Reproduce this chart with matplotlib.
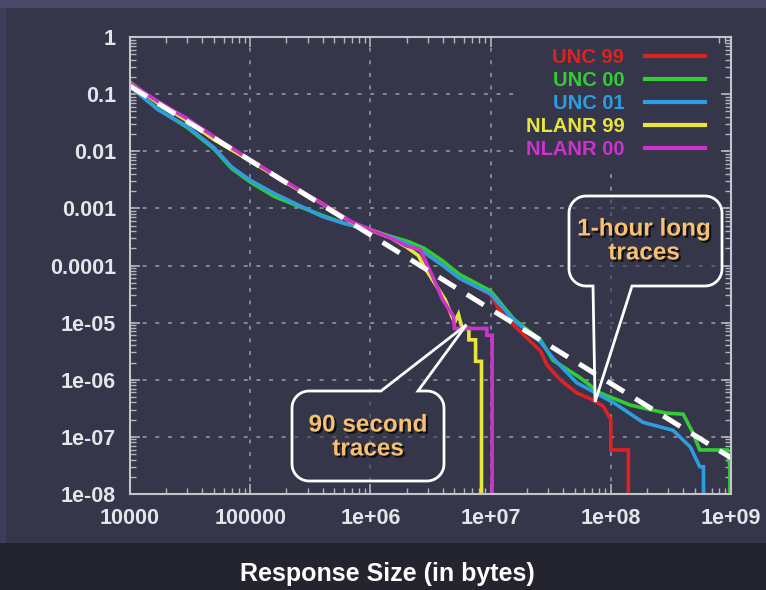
import matplotlib
matplotlib.use('Agg')
import matplotlib.pyplot as plt
import matplotlib.patheffects as pe
from matplotlib.patches import Rectangle, Polygon
from matplotlib.ticker import FixedLocator, NullFormatter, LogLocator
import numpy as np

# ---- data ----
series_names = ['UNC 99', 'UNC 00', 'UNC 01', 'NLANR 99', 'NLANR 00']
series_colors = ['#dd2222', '#33cc33', '#2a9ee0', '#e6e63c', '#cc33cc']

unc99_x = [1e4, 1.7e4, 3e4, 5e4, 7e4, 1e5, 1.6e5, 2.5e5, 4e5, 6e5, 1e6, 1.5e6, 2.1e6, 2.8e6,
           4e6, 5.5e6, 1e7, 1.2e7, 1.6e7, 2.6e7, 2.95e7, 3.8e7, 5.2e7, 7e7, 8.7e7, 1e8, 1e8,
           1.4e8, 1.4e8]
unc99_y = [0.135, 0.054, 0.027, 0.0115, 0.0053, 0.0031, 0.0018, 0.00115, 0.00072, 0.00055, 0.00042,
           0.00031, 0.00023, 0.00017, 0.0001, 6e-5, 3.1e-5, 1.6e-5, 8.5e-6, 3.2e-6, 1.8e-6, 1e-6,
           5.9e-7, 4.5e-7, 3.4e-7, 2e-7, 5.9e-8, 5.9e-8, 1e-8]

unc00_x = [1e4, 1.7e4, 3e4, 5e4, 7e4, 1e5, 1.6e5, 2.5e5, 4e5, 6e5, 1e6, 1.5e6, 2.1e6, 2.8e6,
           4e6, 5.5e6, 1e7, 1.56e7, 2.6e7, 3.3e7, 5.5e7, 8.1e7, 1.45e8, 2.9e8, 4e8, 4.8e8,
           5.5e8, 9.3e8, 9.8e8, 9.8e8]
unc00_y = [0.14, 0.055, 0.026, 0.011, 0.0050, 0.0029, 0.0016, 0.0011, 0.00075, 0.00055, 0.00042,
           0.00032, 0.00026, 0.0002, 0.00012, 7e-5, 3.6e-5, 1.15e-5, 5e-6, 2.2e-6, 1.1e-6, 5.9e-7,
           3.6e-7, 2.6e-7, 2.5e-7, 1.2e-7, 5.9e-8, 5.9e-8, 3e-8, 1e-8]

unc01_x = [1e4, 1.7e4, 3e4, 5e4, 7e4, 1e5, 1.6e5, 2.5e5, 4e5, 6e5, 1e6, 1.5e6, 2.1e6, 2.8e6,
           4e6, 5.5e6, 1e7, 1.56e7, 2.6e7, 3.3e7, 5.2e7, 1.05e8, 1.85e8, 3.3e8, 4.6e8, 5.5e8,
           5.9e8, 5.9e8]
unc01_y = [0.135, 0.054, 0.027, 0.0115, 0.0053, 0.0031, 0.0018, 0.00115, 0.00072, 0.00055, 0.00042,
           0.00031, 0.00023, 0.00017, 0.0001, 6e-5, 3.2e-5, 1.1e-5, 4.6e-6, 2.4e-6, 8.9e-7, 4e-7,
           1.8e-7, 1.3e-7, 6.6e-8, 3e-8, 3e-8, 1e-8]

nlanr99_x = [1e4, 1.7e4, 3e4, 5e4, 1e5, 2e5, 4e5, 7e5, 1e6, 1.5e6, 2e6, 2.5e6, 2.9e6, 4.2e6,
             5e6, 5.4e6, 5.8e6, 6.6e6, 6.6e6, 7.5e6, 7.5e6, 8.4e6, 8.4e6]
nlanr99_y = [0.16, 0.07, 0.034, 0.016, 0.0068, 0.0028, 0.0012, 0.00057, 0.00042, 0.0003, 0.00021,
             0.00015, 8.5e-5, 2.5e-5, 1e-5, 1.4e-5, 7.9e-6, 7.9e-6, 5e-6, 5e-6, 2.1e-6, 2.1e-6, 1e-8]

nlanr00_x = [1e4, 1.7e4, 3e4, 5e4, 1e5, 2e5, 4e5, 7e5, 1e6, 1.5e6, 2e6, 2.6e6, 3.3e6, 4e6,
             4.9e6, 5e6, 9.3e6, 9.3e6, 1.03e7, 1.03e7]
nlanr00_y = [0.155, 0.075, 0.037, 0.018, 0.0071, 0.0029, 0.0012, 0.00058, 0.00042, 0.0003, 0.00022,
             0.00019, 6.4e-5, 2.5e-5, 1.3e-5, 7.9e-6, 7.9e-6, 6e-6, 6e-6, 1e-8]

fit_x = [1e4, 1e9]
fit_y = [0.138, 4.3e-8]

xticks = [1e4, 1e5, 1e6, 1e7, 1e8, 1e9]
xtick_labels = ['10000', '100000', '1e+06', '1e+07', '1e+08', '1e+09']
yticks = [1, 0.1, 0.01, 0.001, 0.0001, 1e-5, 1e-6, 1e-7, 1e-8]
ytick_labels = ['1', '0.1', '0.01', '0.001', '0.0001', '1e-05', '1e-06', '1e-07', '1e-08']

hour_tip = (7.4e7, 4.1e-7)
sec_tip = (6.3e6, 9.2e-6)

W, H = 766, 590
FONT = ['Liberation Sans', 'DejaVu Sans']
PANEL = '#36364a'

fig = plt.figure(figsize=(W / 100, H / 100), dpi=100)
fig.patch.set_facecolor('#24242f')


def fx(x, y):
    return (x / W, 1 - y / H)


# slide background bands
fig.add_artist(Rectangle(fx(0, 543), 1, 543 / H, transform=fig.transFigure,
                         facecolor='#3e3e58', edgecolor='none', zorder=0))
fig.add_artist(Rectangle(fx(6, 543), 1, (543 - 8) / H, transform=fig.transFigure,
                         facecolor=PANEL, edgecolor='none', zorder=0))
fig.add_artist(Rectangle(fx(0, 8), 1, 8 / H, transform=fig.transFigure,
                         facecolor='#4a4a68', edgecolor='none', zorder=0))

ax = fig.add_axes([130 / W, 1 - 494 / H, (731 - 130) / W, (494 - 37) / H])
ax.set_facecolor('none')
ax.set_xscale('log')
ax.set_yscale('log')
ax.set_xlim(1e4, 1e9)
ax.set_ylim(1e-8, 1)

all_x = [unc99_x, unc00_x, unc01_x, nlanr99_x, nlanr00_x]
all_y = [unc99_y, unc00_y, unc01_y, nlanr99_y, nlanr00_y]
for xs, ys, name, c in zip(all_x, all_y, series_names, series_colors):
    ax.plot(xs, ys, color=c, lw=2.6, label=name, solid_joinstyle='miter', zorder=3)

ax.plot(fit_x, fit_y, color='white', lw=3.6, dashes=(4, 2.6), zorder=4)

ax.grid(True, which='major', color='#8c8ca0', linestyle=(0, (2.2, 4.8)), linewidth=1.3)
ax.xaxis.set_major_locator(FixedLocator(xticks))
ax.set_xticklabels(xtick_labels)
ax.yaxis.set_major_locator(FixedLocator(yticks))
ax.set_yticklabels(ytick_labels)
ax.xaxis.set_minor_locator(LogLocator(base=10, subs=np.arange(2, 10)))
ax.yaxis.set_minor_locator(LogLocator(base=10, subs=np.arange(2, 10)))
ax.xaxis.set_minor_formatter(NullFormatter())
ax.yaxis.set_minor_formatter(NullFormatter())
ax.tick_params(which='both', direction='in', top=True, right=True, color='#b4b4c0')
ax.tick_params(which='major', length=7, width=1.2, pad=10, labelsize=15.5, labelcolor='#e4e4ea')
ax.tick_params(which='minor', length=4, width=1.0)
for lab in ax.get_xticklabels() + ax.get_yticklabels():
    lab.set_fontfamily(FONT)
    lab.set_fontweight('bold')
for sp in ax.spines.values():
    sp.set_color('#c4c4cc')
    sp.set_linewidth(1.5)
    sp.set_zorder(6)

leg = ax.legend(loc='upper right', bbox_to_anchor=((716 - 130) / 601, 1),
                frameon=True, fancybox=False, facecolor=PANEL, edgecolor='none', framealpha=1,
                markerfirst=False, labelcolor='linecolor',
                prop={'family': FONT, 'weight': 'bold', 'size': 14.5},
                handlelength=3.0, handletextpad=1.0, labelspacing=0.2,
                borderpad=0.55, borderaxespad=0)
leg.set_zorder(5)
for ln in leg.get_lines():
    ln.set_linewidth(3.0)

fig.canvas.draw()


def to_px(pt):
    d = ax.transData.transform(pt)
    return (d[0], H - d[1])


def bubble(x0, y0, x1, y1, r, side, xa, xb, tip):
    pts = []

    def arc(cx, cy, a0, a1):
        for t in np.radians(np.linspace(a0, a1, 12)):
            pts.append((cx + r * np.cos(t), cy + r * np.sin(t)))
    arc(x0 + r, y0 + r, 180, 270)
    if side == 'top':
        pts.extend([(xa, y0), tip, (xb, y0)])
    arc(x1 - r, y0 + r, 270, 360)
    arc(x1 - r, y1 - r, 0, 90)
    if side == 'bottom':
        pts.extend([(xb, y1), tip, (xa, y1)])
    arc(x0 + r, y1 - r, 90, 180)
    return [fx(x, y) for x, y in pts]


shadow = [pe.withSimplePatchShadow(offset=(1.5, -1.5), shadow_rgbFace='black', alpha=0.75)]

b1 = bubble(569, 196, 722, 286, 17, 'bottom', 593, 632, to_px(hour_tip))
fig.add_artist(Polygon(b1, closed=True, transform=fig.transFigure, facecolor=(0.21, 0.21, 0.29, 0.55),
                       edgecolor='white', lw=2.0, zorder=10))
fig.text(644 / W, 1 - 241 / H, '1-hour long\ntraces', ha='center', va='center', color='#f7c16e',
         fontsize=17.5, fontweight='bold', family=FONT, linespacing=1.05, zorder=11,
         path_effects=shadow)

b2 = bubble(292, 391, 444, 481, 17, 'top', 381, 418, to_px(sec_tip))
fig.add_artist(Polygon(b2, closed=True, transform=fig.transFigure, facecolor=(0.21, 0.21, 0.29, 0.55),
                       edgecolor='white', lw=2.0, zorder=10))
fig.text(368 / W, 1 - 437 / H, '90 second\ntraces', ha='center', va='center', color='#f7c16e',
         fontsize=17.5, fontweight='bold', family=FONT, linespacing=1.05, zorder=11,
         path_effects=shadow)

fig.text(387 / W, 1 - 574 / H, 'Response Size (in bytes)', ha='center', va='center', color='white',
         fontsize=18, fontweight='bold', family=FONT)

fig.savefig('out.png', dpi=100, facecolor=fig.get_facecolor())
